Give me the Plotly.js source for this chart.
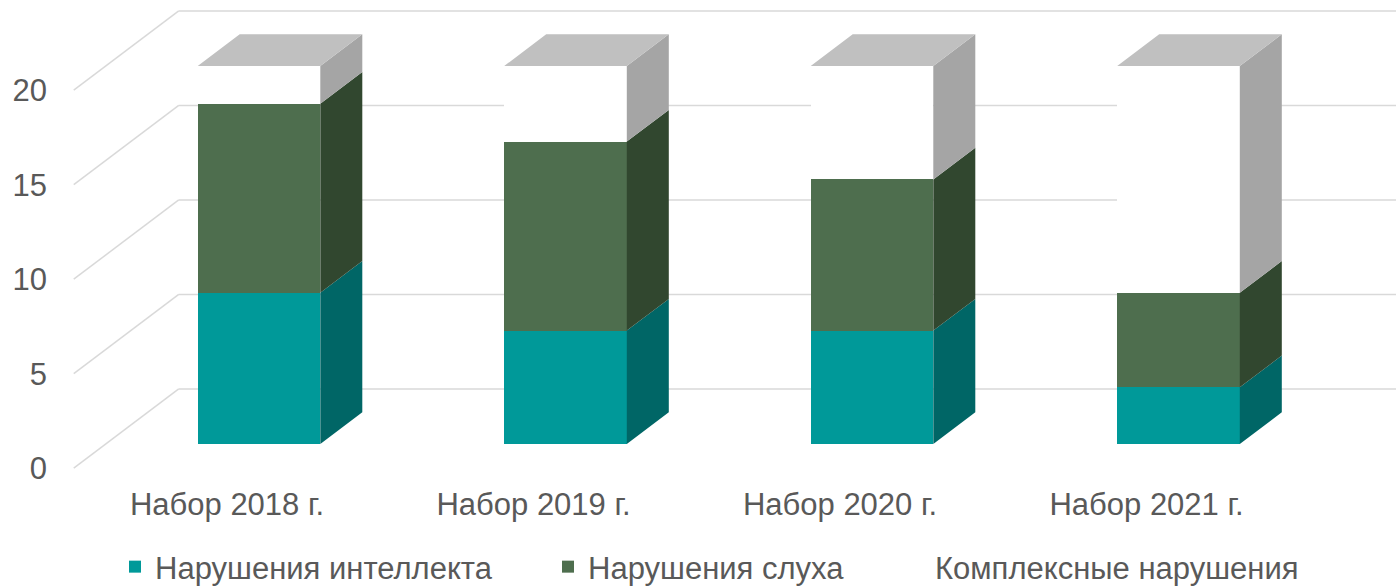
<!DOCTYPE html>
<html>
<head>
<meta charset="utf-8">
<script src="https://cdn.plot.ly/plotly-3.0.1.min.js"></script>
<style>html,body{margin:0;padding:0;background:#fff;}#chart{width:1396px;height:588px;}</style>
</head>
<body>
<div id="chart"></div>
<script>
// ---- data ----
const categories = ['Набор 2018 г.', 'Набор 2019 г.', 'Набор 2020 г.', 'Набор 2021 г.'];
const intellect = [8, 6, 6, 3];      // Нарушения интеллекта
const hearing   = [10, 10, 8, 5];    // Нарушения слуха
const complex   = [2, 4, 6, 12];     // Комплексные нарушения
const seriesNames = ['Нарушения интеллекта', 'Нарушения слуха', 'Комплексные нарушения'];
const yTicks = [0, 5, 10, 15, 20];

// ---- styling / geometry ----
const W = 1396, H = 588;
const M = {l: 48, r: 0, t: 0, b: 105, autoexpand: false};
const PX = 306.5;   // px per category
const PY = 18.9;    // px per value unit
const X0 = 259;     // px of category 0 centre (front face)
const Y0 = 444;     // px of value 0 (front face)
const SLOPE = 0.755;
const DB = 42, DW = 73, DF = -32;  // depths: bar back, wall, floor front (px)
const BW = 0.4;
const frontColors = ['#009999', '#4E6E4E', '#FFFFFF'];
const sideColors  = ['#006666', '#31472F', '#A5A5A5'];
const topColor = '#C0C0C0';
const gridColor = '#D9D9D9';
const textColor = '#595959';
const FONT = 'Liberation Sans, Arial, sans-serif';

const plotH = H - M.t - M.b;
const xRange = [(M.l - X0) / PX, (W - M.r - X0) / PX];
const yRange = [(Y0 - (M.t + plotH)) / PY, (Y0 - M.t) / PY];

function proj(xc, v, t) { return [xc + t / PX, v + t * SLOPE / PY]; }

const xIdx = categories.map((_, i) => i);
const series = [intellect, hearing, complex];

const traces = [];
// front faces (bars)
series.forEach((vals, s) => {
  traces.push({
    type: 'bar', x: xIdx, y: vals, width: BW, name: seriesNames[s],
    marker: {color: frontColors[s], line: {width: 0}},
    legend: s === 0 ? 'legend' : ('legend' + (s + 1)),
    hoverinfo: 'skip'
  });
});
// side faces
const base = categories.map(() => 0);
series.forEach((vals, s) => {
  const xs = [], ys = [];
  vals.forEach((v, i) => {
    const xr = i + BW / 2, y0 = base[i], y1 = base[i] + v;
    [[xr, y0, 0], [xr, y0, DB], [xr, y1, DB], [xr, y1, 0]].forEach(p => {
      const q = proj(p[0], p[1], p[2]); xs.push(q[0]); ys.push(q[1]);
    });
    xs.push(null); ys.push(null);
    base[i] += v;
  });
  traces.push({type: 'scatter', x: xs, y: ys, mode: 'lines', fill: 'toself',
    fillcolor: sideColors[s], line: {width: 0, color: sideColors[s]},
    showlegend: false, hoverinfo: 'skip'});
});
// top faces
{
  const xs = [], ys = [];
  base.forEach((top, i) => {
    const xl = i - BW / 2, xr = i + BW / 2;
    [[xl, top, 0], [xl, top, DB], [xr, top, DB], [xr, top, 0]].forEach(p => {
      const q = proj(p[0], p[1], p[2]); xs.push(q[0]); ys.push(q[1]);
    });
    xs.push(null); ys.push(null);
  });
  traces.push({type: 'scatter', x: xs, y: ys, mode: 'lines', fill: 'toself',
    fillcolor: topColor, line: {width: 0, color: topColor},
    showlegend: false, hoverinfo: 'skip'});
}

// walls: gridlines (back wall) and diagonals (left wall)
const shapes = [];
const xL = -0.5, xR = categories.length - 0.5;
yTicks.forEach(v => {
  const a = proj(xL, v, DW), b = proj(xR, v, DW), f = proj(xL, v, DF);
  shapes.push({type: 'line', layer: 'below', xref: 'x', yref: 'y',
    x0: a[0], y0: a[1], x1: b[0] + 1, y1: b[1], line: {color: gridColor, width: 1.5}});
  shapes.push({type: 'line', layer: 'below', xref: 'x', yref: 'y',
    x0: f[0], y0: f[1], x1: a[0], y1: a[1], line: {color: gridColor, width: 1.5}});
});

const labelShiftX = DF / PX;
const labelShiftY = DF * SLOPE / PY;

function legendAt(px) {
  return {orientation: 'h', x: (px - M.l) / (W - M.l - M.r), xanchor: 'left',
    y: (M.t + plotH - 567) / plotH, yanchor: 'middle', yref: 'paper',
    font: {family: FONT, size: 31, color: textColor}, bgcolor: 'rgba(0,0,0,0)'};
}

const layout = {
  width: W, height: H, margin: M, paper_bgcolor: '#fff', plot_bgcolor: 'rgba(0,0,0,0)',
  barmode: 'stack', hovermode: false,
  xaxis: {range: xRange, tickvals: xIdx.map(i => i + labelShiftX), ticktext: categories,
    showgrid: false, zeroline: false, showline: false, ticks: '', automargin: false,
    tickfont: {family: FONT, size: 31, color: textColor}, fixedrange: true},
  yaxis: {range: yRange, tickvals: yTicks.map(v => v + labelShiftY), ticktext: yTicks.map(String),
    showgrid: false, zeroline: false, showline: false, ticks: '', automargin: false,
    tickfont: {family: FONT, size: 31, color: textColor}, fixedrange: true},
  shapes: shapes,
  legend: legendAt(115),
  legend2: legendAt(548),
  legend3: legendAt(895),
  showlegend: true
};

Plotly.newPlot('chart', traces, layout, {displayModeBar: false, staticPlot: true});
</script>
</body>
</html>
